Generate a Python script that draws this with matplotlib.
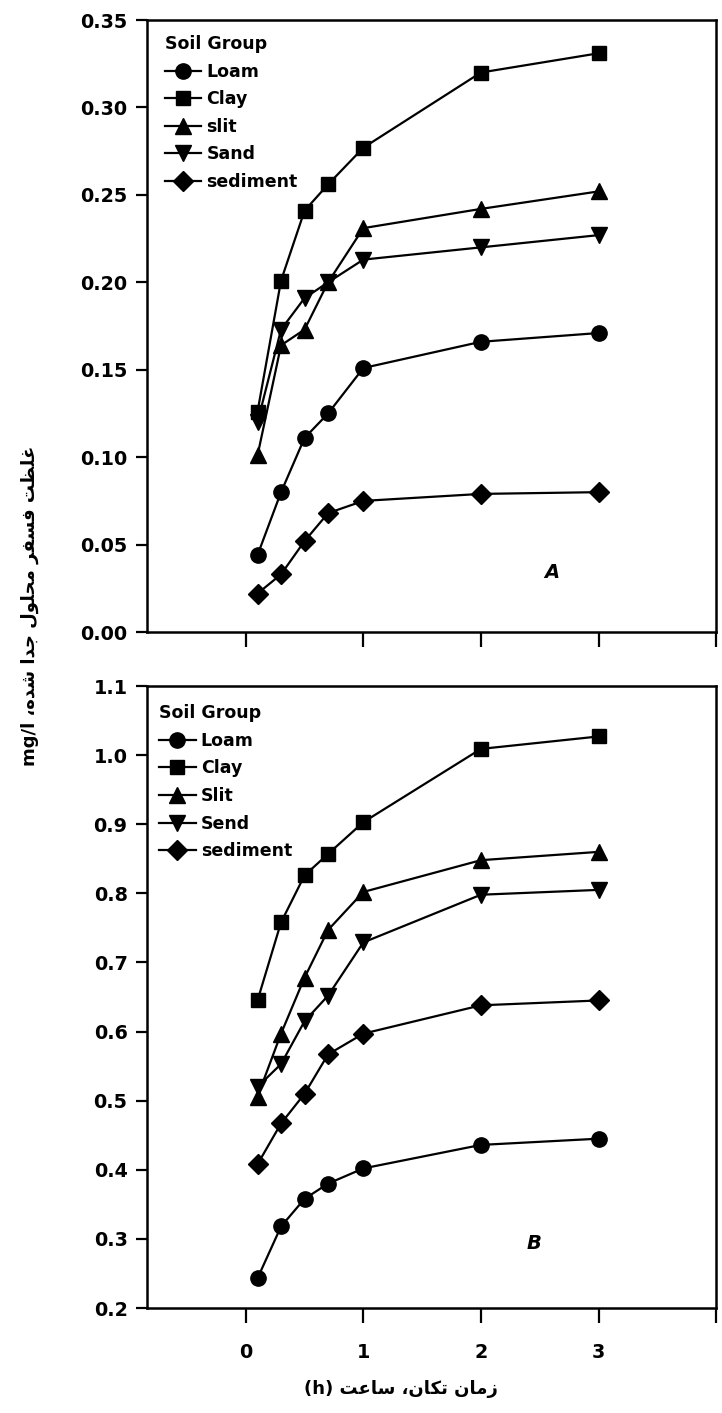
import matplotlib
matplotlib.use("Agg")
import matplotlib.pyplot as plt

plt.rcParams['font.family'] = ['DejaVu Sans']
plt.rcParams['font.weight'] = 'bold'

# shaking time (h)
hours = [0.1, 0.3, 0.5, 0.7, 1, 2, 3]

# panel A
loam_a = [0.044, 0.080, 0.111, 0.125, 0.151, 0.166, 0.171]
clay_a = [0.126, 0.201, 0.241, 0.256, 0.277, 0.320, 0.331]
silt_a = [0.101, 0.164, 0.173, 0.200, 0.231, 0.242, 0.252]
sand_a = [0.120, 0.173, 0.191, 0.200, 0.213, 0.220, 0.227]
sediment_a = [0.022, 0.033, 0.052, 0.068, 0.075, 0.079, 0.080]
labels_a = ["Loam", "Clay", "slit", "Sand", "sediment"]

# panel B
loam_b = [0.243, 0.318, 0.358, 0.380, 0.402, 0.436, 0.445]
clay_b = [0.645, 0.758, 0.826, 0.857, 0.903, 1.009, 1.027]
silt_b = [0.506, 0.597, 0.678, 0.747, 0.802, 0.848, 0.860]
sand_b = [0.520, 0.553, 0.615, 0.652, 0.729, 0.798, 0.805]
sediment_b = [0.408, 0.467, 0.510, 0.567, 0.597, 0.638, 0.645]
labels_b = ["Loam", "Clay", "Slit", "Send", "sediment"]

yticks_a = [0.00, 0.05, 0.10, 0.15, 0.20, 0.25, 0.30, 0.35]
yticks_b = [0.2, 0.3, 0.4, 0.5, 0.6, 0.7, 0.8, 0.9, 1.0, 1.1]
xticks = [0, 1, 2, 3, 4]
xticklabels = ["0", "1", "2", "3", ""]

ylabel_fa = "غلظت فسفر محلول جدا شده،"
xlabel_fa = "زمان تكان، ساعت"

# arabic presentation forms: isolated, final, initial, medial
FORMS = {
    'ا': ('\uFE8D', '\uFE8E', None, None),
    'ت': ('\uFE95', '\uFE96', '\uFE97', '\uFE98'),
    'ج': ('\uFE9D', '\uFE9E', '\uFE9F', '\uFEA0'),
    'ح': ('\uFEA1', '\uFEA2', '\uFEA3', '\uFEA4'),
    'د': ('\uFEA9', '\uFEAA', None, None),
    'ر': ('\uFEAD', '\uFEAE', None, None),
    'ز': ('\uFEAF', '\uFEB0', None, None),
    'س': ('\uFEB1', '\uFEB2', '\uFEB3', '\uFEB4'),
    'ش': ('\uFEB5', '\uFEB6', '\uFEB7', '\uFEB8'),
    'ظ': ('\uFEC5', '\uFEC6', '\uFEC7', '\uFEC8'),
    'ع': ('\uFEC9', '\uFECA', '\uFECB', '\uFECC'),
    'غ': ('\uFECD', '\uFECE', '\uFECF', '\uFED0'),
    'ف': ('\uFED1', '\uFED2', '\uFED3', '\uFED4'),
    'ك': ('\uFED9', '\uFEDA', '\uFEDB', '\uFEDC'),
    'ل': ('\uFEDD', '\uFEDE', '\uFEDF', '\uFEE0'),
    'م': ('\uFEE1', '\uFEE2', '\uFEE3', '\uFEE4'),
    'ن': ('\uFEE5', '\uFEE6', '\uFEE7', '\uFEE8'),
    'ه': ('\uFEE9', '\uFEEA', '\uFEEB', '\uFEEC'),
    'و': ('\uFEED', '\uFEEE', None, None),
}


def shape(s):
    out = []
    for i, c in enumerate(s):
        if c not in FORMS:
            out.append(c)
            continue
        prev = s[i - 1] if i > 0 else ''
        nxt = s[i + 1] if i + 1 < len(s) else ''
        jp = prev in FORMS and FORMS[prev][2] is not None
        jn = FORMS[c][2] is not None and nxt in FORMS
        iso, fin, ini, med = FORMS[c]
        if jp and jn:
            out.append(med)
        elif jp:
            out.append(fin)
        elif jn:
            out.append(ini)
        else:
            out.append(iso)
    return ''.join(reversed(out))


markers = ['o', 's', '^', 'v', 'D']
msizes = [11, 10, 12, 12, 10.5]

fig = plt.figure(figsize=(7.22, 14.13), dpi=100)
ax1 = fig.add_axes([0.2036, 0.5527, 0.7882, 0.4331])
ax2 = fig.add_axes([0.2036, 0.0743, 0.7882, 0.4402])


def draw(ax, series, labels, yticks, ylim, ytl, letter, letter_xy, leg_anchor, show_xl):
    for ys, lab, m, ms in zip(series, labels, markers, msizes):
        ax.plot(hours, ys, color='black', lw=1.6, marker=m, markersize=ms,
                markerfacecolor='black', markeredgecolor='black', label=lab)
    ax.set_xlim(-0.84, 4.0)
    ax.set_ylim(*ylim)
    ax.set_yticks(yticks)
    ax.set_yticklabels(ytl)
    ax.set_xticks(xticks)
    if show_xl:
        ax.set_xticklabels(xticklabels)
    else:
        ax.set_xticklabels([])
    for s in ax.spines.values():
        s.set_linewidth(1.8)
    ax.tick_params(axis='both', direction='out', width=1.6, labelsize=13.8)
    ax.tick_params(axis='y', length=8, pad=6)
    ax.tick_params(axis='x', length=11, pad=14)
    ax.text(letter_xy[0], letter_xy[1], letter, fontsize=14, fontweight='bold',
            fontstyle='italic', ha='center', va='center')
    leg = ax.legend(loc='upper left', bbox_to_anchor=leg_anchor, frameon=False,
                    title='Soil Group', fontsize=12.5, title_fontsize=12.5,
                    handlelength=2.1, handletextpad=0.3, labelspacing=0.55,
                    borderpad=0.2, alignment='left')
    leg.get_title().set_fontweight('bold')
    for t in leg.get_texts():
        t.set_fontweight('bold')


draw(ax1, [loam_a, clay_a, silt_a, sand_a, sediment_a], labels_a, yticks_a,
     (0, 0.35), ["%.2f" % v for v in yticks_a], 'A', (2.6, 0.034), (0.01, 0.995), False)
draw(ax2, [loam_b, clay_b, silt_b, sand_b, sediment_b], labels_b, yticks_b,
     (0.2, 1.1), ["%.1f" % v for v in yticks_b], 'B', (2.45, 0.294), (0.0, 0.99), True)

fig.text(0.042, 0.571, "mg/l " + shape(ylabel_fa), rotation=90, ha='center', va='center',
         fontsize=13, fontweight='bold')
fig.text(0.555, 0.017, "(h) " + shape(xlabel_fa), ha='center', va='center',
         fontsize=13, fontweight='bold')

fig.savefig('out.png', dpi=100)
